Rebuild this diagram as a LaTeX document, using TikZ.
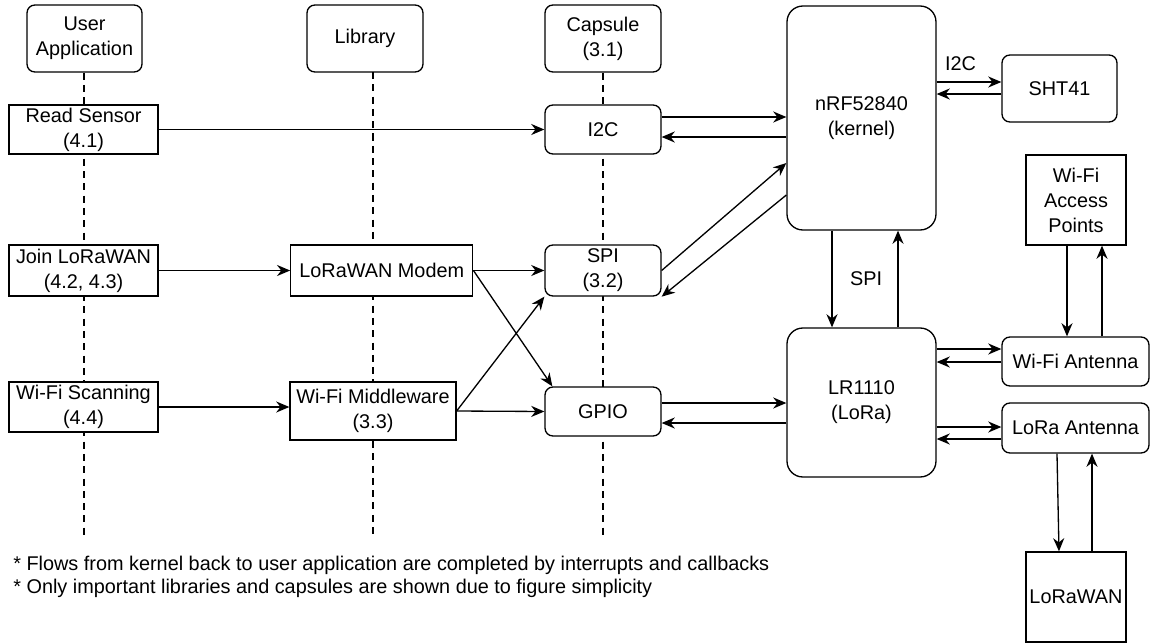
\documentclass[tikz,border=0pt]{standalone}
\usepackage{fontspec}
\setmainfont{Liberation Sans}
\usetikzlibrary{arrows.meta}
\tikzset{
  base/.style={draw, line width=0.75pt, fill=white, align=center, inner sep=0pt,
    font=\fontsize{11.3}{14.2}\selectfont},
  lane/.style={base, rounded corners=4.5pt},
  chip/.style={base, rounded corners=9pt},
  plainbox/.style={base},
  lifeline/.style={line width=0.75pt, dash pattern=on 4pt off 3pt},
  flow/.style={line width=0.75pt, -{Stealth[length=7.5pt,width=6.3pt]}},
  note/.style={font=\fontsize{11.3}{14.2}\selectfont, inner sep=0pt, anchor=west}
}
\begin{document}
\begin{tikzpicture}[x=0.02cm,y=-0.02cm]
  \useasboundingbox (0,0) rectangle (1150,643);
  \node[lane, minimum width=2.3cm, minimum height=1.34cm] (app) at (84.5,38.5) {User\\Application};
  \node[lane, minimum width=2.32cm, minimum height=1.34cm] (lib) at (365,38.5) {Library};
  \node[lane, minimum width=2.32cm, minimum height=1.34cm] (cap) at (603,38.5) {Capsule\\(3.1)};
  \coordinate (appEnd) at (84,535);
  \coordinate (libTop) at (373,72);
  \coordinate (libEnd) at (373,535);
  \coordinate (capEnd) at (603,535);
  \draw[lifeline] (app.south -| appEnd) -- (appEnd);
  \draw[lifeline] (libTop) -- (libEnd);
  \draw[lifeline] (cap.south) -- (capEnd);

  \node[plainbox, minimum width=2.98cm, minimum height=0.98cm] (read) at (83.5,129.5) {Read Sensor\\(4.1)};
  \node[plainbox, minimum width=2.98cm, minimum height=1.02cm] (join) at (83.5,270.5) {Join LoRaWAN\\(4.2, 4.3)};
  \node[plainbox, minimum width=2.98cm, minimum height=1.0cm] (scan) at (83.5,407) {Wi-Fi Scanning\\(4.4)};
  \node[plainbox, minimum width=3.64cm, minimum height=1.02cm] (modem) at (381.8,270.5) {LoRaWAN Modem};
  \node[plainbox, minimum width=3.32cm, minimum height=1.16cm] (mw) at (373,411) {Wi-Fi Middleware\\(3.3)};
  \node[lane, minimum width=2.32cm, minimum height=0.98cm] (i2c) at (603,129.5) {I2C};
  \node[lane, minimum width=2.32cm, minimum height=1.02cm] (spi) at (603,270.5) {SPI\\(3.2)};
  \node[lane, minimum width=2.32cm, minimum height=0.98cm] (gpio) at (603,411.5) {GPIO};
  \node[chip, minimum width=2.98cm, minimum height=4.48cm] (nrf) at (861.5,118) {nRF52840\\(kernel)};
  \node[chip, minimum width=2.98cm, minimum height=2.98cm] (lr) at (861.5,402.5) {LR1110\\(LoRa)};
  \node[lane, minimum width=2.3cm, minimum height=1.34cm] (sht) at (1059.5,88.5) {SHT41};
  \node[plainbox, minimum width=2.0cm, minimum height=1.8cm] (wap) at (1076,200) {Wi-Fi\\Access\\Points};
  \node[lane, minimum width=2.94cm, minimum height=0.98cm] (wfant) at (1075.5,361.5) {Wi-Fi Antenna};
  \node[lane, minimum width=2.94cm, minimum height=1.0cm] (loant) at (1075.5,428) {LoRa Antenna};
  \node[plainbox, minimum width=2.0cm, minimum height=1.8cm] (lwan) at (1076,597) {LoRaWAN};

  \draw[flow] (read.east) -- (i2c.west);
  \draw[flow] (i2c.east |- 0,117) -- (nrf.west |- 0,117);
  \draw[flow] (nrf.west |- 0,137) -- (i2c.east |- 0,137);
  \draw[flow] (nrf.east |- 0,82) -- node[pos=0.37, above=6pt, font=\fontsize{11.3}{14.2}\selectfont, inner sep=0pt] (i2clab) {I2C} (sht.west |- 0,82);
  \draw[flow] (sht.west |- 0,94) -- (nrf.east |- 0,94);
  \draw[flow] (spi.east) -- (nrf.west |- 0,163);
  \draw[flow] (nrf.west |- 0,195) -- (spi.south east);
  \draw[flow] (join.east) -- (modem.west);
  \draw[flow] (modem.east) -- (spi.west);
  \draw[flow] (modem.east) -- ([xshift=0.16cm]gpio.north west);
  \draw[flow] (scan.east) -- (mw.west |- scan.east);
  \draw[flow] (mw.east) -- (spi.south west);
  \draw[flow] (mw.east) -- (gpio.west);
  \draw[flow] (gpio.east |- 0,403) -- (lr.west |- 0,403);
  \draw[flow] (lr.west |- 0,423) -- (gpio.east |- 0,423);
  \draw[flow] (nrf.south -| 832,0) -- node[right=10pt, font=\fontsize{11.3}{14.2}\selectfont, inner sep=0pt] (spilab) {SPI} (lr.north -| 832,0);
  \draw[flow] (lr.north -| 898,0) -- (nrf.south -| 898,0);
  \draw[flow] (lr.east |- 0,349) -- (wfant.west |- 0,349);
  \draw[flow] (wfant.west |- 0,362) -- (lr.east |- 0,362);
  \draw[flow] (lr.east |- 0,427) -- (loant.west |- 0,427);
  \draw[flow] (loant.west |- 0,439) -- (lr.east |- 0,439);
  \draw[flow] (wap.south -| 1067,0) -- (wfant.north -| 1067,0);
  \draw[flow] (wfant.north -| 1102,0) -- (wap.south -| 1102,0);
  \draw[flow] (loant.south -| 1057,0) -- (lwan.north -| 1059,0);
  \draw[flow] (lwan.north -| 1092,0) -- (loant.south -| 1092,0);

  \node[note] (note1) at (13,565) {* Flows from kernel back to user application are completed by interrupts and callbacks};
  \node[note] (note2) at (13,588) {* Only important libraries and capsules are shown due to figure simplicity};
\end{tikzpicture}
\end{document}
